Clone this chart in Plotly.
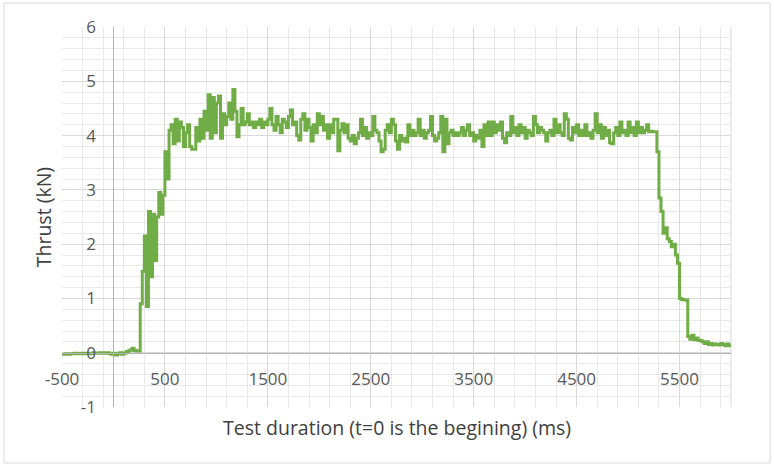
import plotly.graph_objects as go

t_start_ms = -500
t_step_ms = 20

pre_ignition = [
    -0.03, -0.03, -0.02, -0.03, -0.02, -0.02, -0.01, -0.02, -0.02, -0.01,
    -0.02, -0.01, -0.01, -0.02, -0.01, 0.00, -0.01, -0.01, 0.00, -0.01,
    0.00, -0.01, 0.00, -0.02, -0.03, -0.01, -0.04, -0.02, 0.00, -0.03,
    -0.01, 0.02, 0.03, 0.05, 0.08, 0.04, 0.03, 0.03,
]
rise = [0.90, 1.50, 2.15, 0.85, 2.60, 1.40, 2.55, 1.70, 2.50, 2.95, 2.55, 2.90, 3.70, 3.20, 4.10]
burn = [
    4.20, 3.85, 4.30, 3.90, 4.25, 4.15, 3.80, 4.05, 4.20, 3.80,
    3.75, 3.75, 4.15, 3.90, 4.30, 3.95, 4.45, 4.10, 4.75, 3.95,
    4.70, 4.05, 4.60, 4.73, 3.95, 4.40, 4.20, 4.35, 4.60, 4.30,
    4.85, 4.45, 3.98, 4.20, 4.50, 4.20, 4.25, 4.40, 4.20, 4.25,
    4.15, 4.25, 4.20, 4.30, 4.15, 4.25, 4.20, 4.30, 4.50, 4.20,
    4.10, 4.35, 4.20, 4.05, 4.30, 4.25, 4.15, 4.35, 4.47, 4.20,
    4.25, 4.00, 3.92, 4.30, 4.40, 4.10, 4.30, 4.15, 3.90, 4.20,
    4.05, 4.40, 4.20, 4.35, 4.10, 4.20, 3.95, 4.20, 4.05, 4.30,
    4.30, 3.72, 4.10, 4.22, 4.05, 4.20, 3.95, 3.90, 4.00, 3.85,
    3.95, 4.05, 4.30, 4.00, 4.15, 3.95, 4.05, 4.00, 4.35, 4.10,
    4.05, 3.90, 3.70, 3.75, 4.10, 4.20, 4.05, 4.30, 4.20, 3.90,
    3.75, 4.00, 3.90, 3.95, 3.88, 4.20, 4.00, 4.10, 4.00, 4.05,
    4.30, 4.00, 4.10, 3.95, 4.05, 4.10, 4.35, 4.00, 3.90, 3.95,
    4.05, 4.35, 3.70, 4.30, 3.85, 4.05, 4.10, 4.00, 4.05, 4.00,
    4.05, 4.15, 4.00, 4.10, 4.20, 4.00, 4.05, 3.90, 4.00, 3.95,
    4.10, 3.80, 4.20, 4.00, 4.25, 4.00, 4.25, 4.05, 4.20, 4.10,
    4.25, 3.95, 3.87, 4.05, 4.00, 4.35, 4.05, 4.15, 4.00, 4.20,
    4.05, 4.15, 3.95, 4.10, 4.05, 4.00, 4.35, 4.20, 4.05, 4.15,
    4.10, 4.05, 3.90, 4.05, 4.10, 4.00, 4.30, 4.05, 4.20, 4.05,
    4.00, 4.40, 4.30, 3.95, 3.92, 4.15, 4.05, 4.20, 4.00, 4.10,
    4.00, 4.20, 4.00, 4.05, 3.95, 4.10, 4.40, 4.05, 4.20, 3.95,
    4.15, 4.00, 4.10, 3.87, 3.85, 4.05, 4.15, 4.00, 4.25, 4.05,
    4.10, 4.00, 4.25, 4.05, 4.15, 4.00, 4.25, 4.05, 4.15, 4.05,
    4.10, 4.20, 4.07, 4.08, 4.07, 4.07,
]
tail = [
    3.70, 2.85, 2.60, 2.20, 2.30, 2.10, 2.05, 1.95, 2.00, 1.80,
    1.65, 1.00, 0.98, 0.97, 0.97, 0.30, 0.25, 0.32, 0.24, 0.27,
    0.23, 0.22, 0.20, 0.17, 0.20, 0.15, 0.17, 0.14, 0.16, 0.15,
    0.14, 0.17, 0.15, 0.13, 0.16, 0.13, 0.15,
]

thrust_kn = pre_ignition + rise + burn + tail
time_ms = [t_start_ms + t_step_ms * i for i in range(len(thrust_kn))]

x_range = [-500, 6000]
y_range = [-1, 6]
x_tick_values = [-500, 500, 1500, 2500, 3500, 4500, 5500]
y_tick_values = [-1, 0, 1, 2, 3, 4, 5, 6]

x_title = "Test duration (t=0 is the begining) (ms)"
y_title = "Thrust (kN)"

FONT = "Open Sans"
TICK_COLOR = "#595959"
TITLE_COLOR = "#404040"
MAJOR_GRID = "#d9d9d9"
MINOR_GRID = "#e9e9e9"
AXIS_LINE = "#b4b4b4"

fig = go.Figure()
fig.add_trace(go.Scatter(
    x=time_ms, y=thrust_kn, mode="lines",
    line=dict(color="#70AD47", width=3, shape="hv"),
    hoverinfo="skip", showlegend=False,
))

# axis crossing positions (axes cross at zero, Excel style)
y_axis_pos = (0 - x_range[0]) / (x_range[1] - x_range[0])
x_axis_pos = (0 - y_range[0]) / (y_range[1] - y_range[0])

fig.update_layout(
    width=774, height=466,
    margin=dict(l=62, r=43, t=27, b=59),
    paper_bgcolor="white", plot_bgcolor="white",
    font=dict(family=FONT, color=TICK_COLOR),
    xaxis=dict(
        range=x_range, tickvals=x_tick_values, ticktext=[str(v) for v in x_tick_values],
        showgrid=True, gridcolor=MAJOR_GRID, gridwidth=1,
        minor=dict(tick0=-500, dtick=200, showgrid=True, gridcolor=MINOR_GRID, gridwidth=1),
        zeroline=False, showline=True, linecolor=AXIS_LINE, linewidth=1,
        anchor="free", position=x_axis_pos,
        ticks="", ticklabelstandoff=11,
        tickfont=dict(family=FONT, size=17, color=TICK_COLOR),
    ),
    yaxis=dict(
        range=y_range, tickvals=y_tick_values, ticktext=[str(v) for v in y_tick_values],
        showgrid=True, gridcolor=MAJOR_GRID, gridwidth=1,
        minor=dict(dtick=0.2, showgrid=True, gridcolor=MINOR_GRID, gridwidth=1),
        zeroline=False, showline=True, linecolor=AXIS_LINE, linewidth=1,
        anchor="free", position=y_axis_pos,
        ticks="", ticklabelstandoff=14,
        tickfont=dict(family=FONT, size=17, color=TICK_COLOR),
    ),
    annotations=[
        dict(text=x_title, xref="paper", yref="paper", x=0.5, y=-0.053,
             xanchor="center", yanchor="middle", showarrow=False,
             font=dict(family=FONT, size=19.5, color=TITLE_COLOR)),
        dict(text=y_title, xref="paper", yref="paper", x=-0.028, y=0.5,
             xanchor="center", yanchor="middle", showarrow=False, textangle=-90,
             font=dict(family=FONT, size=19.5, color=TITLE_COLOR)),
    ],
    shapes=[
        # right edge of plot area
        dict(type="line", xref="paper", yref="paper", x0=1, x1=1, y0=0, y1=1,
             line=dict(color=MAJOR_GRID, width=1), layer="below"),
        # chart border
        dict(type="rect", xref="paper", yref="paper",
             x0=(4 - 62) / 669, x1=(770 - 62) / 669,
             y0=(407 - 463) / 380, y1=(407 - 3) / 380,
             line=dict(color="#d9d9d9", width=1), fillcolor="rgba(0,0,0,0)"),
    ],
)

fig.write_html(
    "out.html",
    config={"displayModeBar": False},
    post_script="document.body.style.margin='0px';document.body.style.overflow='hidden';",
)
